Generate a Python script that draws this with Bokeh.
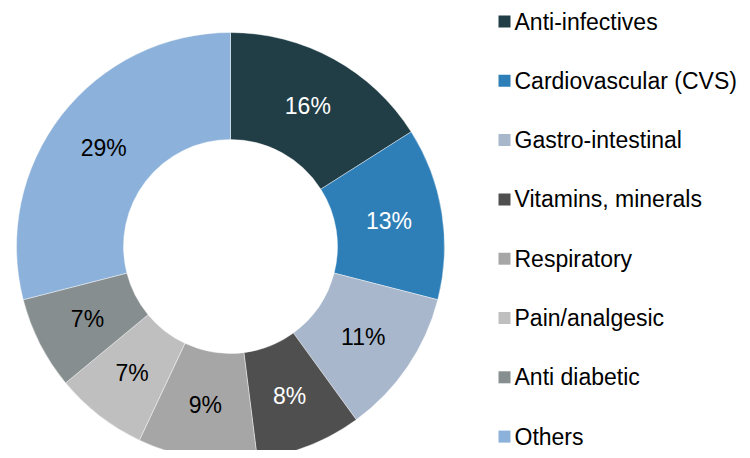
import math
from bokeh.plotting import figure
from bokeh.models import Range1d, ColumnDataSource
from bokeh.core.properties import value
from bokeh.embed import file_html
from bokeh.resources import INLINE

categories = ["Anti-infectives", "Cardiovascular (CVS)", "Gastro-intestinal",
              "Vitamins, minerals", "Respiratory", "Pain/analgesic",
              "Anti diabetic", "Others"]
shares = [16, 13, 11, 8, 9, 7, 7, 29]
colors = ["#213e47", "#2e7fb8", "#a8b7cb", "#4f4f4f",
          "#a6a6a6", "#bfbfbf", "#878e8f", "#8cb2db"]
label_colors = ["white", "white", "black", "white",
                "black", "black", "black", "black"]

W, H = 742, 450
FONT = "Liberation Sans"

p = figure(width=W, height=H, output_backend="svg", toolbar_location=None,
           x_range=Range1d(0, W), y_range=Range1d(458 - H, 458),
           min_border=0, outline_line_color=None)
p.axis.visible = False
p.grid.visible = False
p.background_fill_color = "white"
p.border_fill_color = "white"

cx, cy = 230, 458 - 246
r_out, r_in = 214, 107

total = float(sum(shares))
starts, ends, lx, ly, texts = [], [], [], [], []
cum = 0.0
for s in shares:
    a0 = math.pi / 2 - 2 * math.pi * cum / total
    cum += s
    a1 = math.pi / 2 - 2 * math.pi * cum / total
    starts.append(a0)
    ends.append(a1)
    mid = (a0 + a1) / 2
    rm = (r_out + r_in) / 2
    lx.append(cx + rm * math.cos(mid))
    ly.append(cy + rm * math.sin(mid))
    texts.append(f"{s}%")

src = ColumnDataSource(dict(start=starts, end=ends, color=colors,
                            lx=lx, ly=ly, text=texts, tcolor=label_colors))
p.annular_wedge(x=cx, y=cy, inner_radius=r_in, outer_radius=r_out,
                start_angle="start", end_angle="end", direction="clock",
                fill_color="color", line_color="white", line_width=0.6,
                line_alpha=0.7, source=src)
p.text(x="lx", y="ly", text="text", text_color="tcolor",
       text_font=value(FONT), text_font_size="23px",
       text_align="center", text_baseline="middle", source=src)

# legend
lg_x = 504
lg_y0 = 458 - 21
lg_dy = 59.3
ys = [lg_y0 - i * lg_dy for i in range(len(categories))]
lsrc = ColumnDataSource(dict(x=[lg_x] * len(categories), y=ys, color=colors,
                             tx=[lg_x + 10] * len(categories), label=categories))
p.rect(x="x", y="y", width=12, height=12, fill_color="color",
       line_color=None, source=lsrc)
p.text(x="tx", y="y", text="label", text_color="black",
       text_font=value(FONT), text_font_size="23px",
       text_align="left", text_baseline="middle", source=lsrc)

open("out.html", "w").write(file_html(p, INLINE))
